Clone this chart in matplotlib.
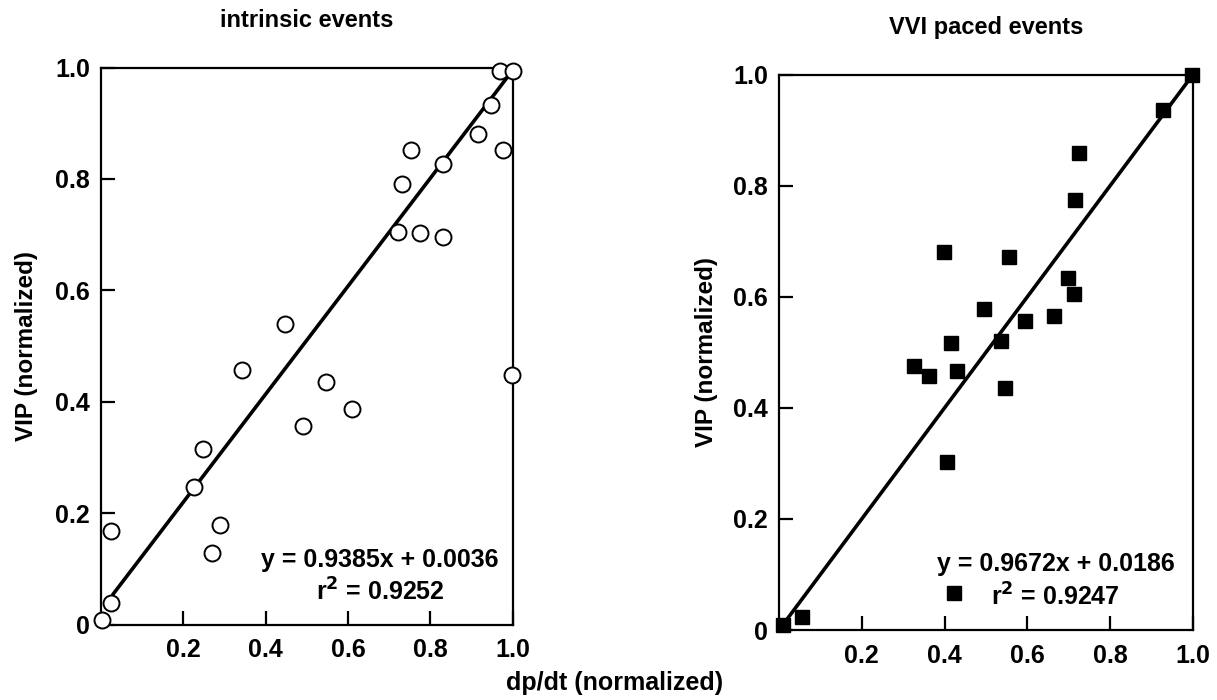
import matplotlib
matplotlib.use("Agg")
import matplotlib.pyplot as plt

plt.rcParams['font.family'] = ['Liberation Sans', 'DejaVu Sans']
plt.rcParams['font.weight'] = 'bold'
plt.rcParams['axes.labelweight'] = 'bold'
plt.rcParams['mathtext.default'] = 'bf'

# intrinsic events (open circles)
intr_x = [0.97, 1.0, 0.948, 0.915, 0.978, 0.753, 0.830, 0.731, 0.722, 0.775, 0.830, 0.447,
          0.342, 0.547, 0.998, 0.609, 0.492, 0.249, 0.227, 0.288, 0.024, 0.269, 0.024, 0.002]
intr_y = [0.994, 0.993, 0.933, 0.881, 0.852, 0.852, 0.827, 0.790, 0.705, 0.702, 0.696, 0.539,
          0.457, 0.435, 0.448, 0.386, 0.356, 0.315, 0.247, 0.178, 0.167, 0.128, 0.038, 0.008]
intr_eq = "y = 0.9385x + 0.0036"
intr_r2 = "0.9252"
# regression line as drawn in the figure (end points)
intr_line_x = [0.03, 0.99]
intr_line_y = [0.055, 0.985]

# VVI paced events (filled squares)
vvi_x = [0.998, 0.928, 0.725, 0.715, 0.399, 0.556, 0.699, 0.713, 0.495, 0.594, 0.665, 0.415,
         0.536, 0.326, 0.363, 0.431, 0.546, 0.405, 0.423, 0.056, 0.010]
vvi_y = [1.0, 0.936, 0.858, 0.774, 0.681, 0.672, 0.633, 0.605, 0.578, 0.557, 0.565, 0.516,
         0.520, 0.476, 0.457, 0.467, 0.436, 0.303, 0.067, 0.024, 0.009]
vvi_eq = "y = 0.9672x + 0.0186"
vvi_r2 = "0.9247"
vvi_line_x = [0.015, 1.0]
vvi_line_y = [0.015, 1.0]

x_ticks = [0.2, 0.4, 0.6, 0.8, 1.0]
y_ticks = [0, 0.2, 0.4, 0.6, 0.8, 1.0]
y_tick_labels = ['0', '0.2', '0.4', '0.6', '0.8', '1.0']

W, H = 1217, 700
fig = plt.figure(figsize=(W / 100, H / 100), dpi=100)

FS_TICK = 18
FS_LAB = 17.5
FS_TITLE = 17
FS_NOTE = 18


def px_axes(x0, x1, ytop, ybot):
    return fig.add_axes([x0 / W, 1 - ybot / H, (x1 - x0) / W, (ybot - ytop) / H])


def style(ax, title, ylab_x):
    ax.set_xlim(0, 1)
    ax.set_ylim(0, 1)
    for s in ax.spines.values():
        s.set_linewidth(1.6)
    ax.set_xticks(x_ticks)
    ax.set_xticklabels([f"{t:.1f}" for t in x_ticks], fontsize=FS_TICK)
    ax.set_yticks(y_ticks)
    ax.set_yticklabels(y_tick_labels, fontsize=FS_TICK)
    ax.tick_params(axis='x', direction='in', length=10, width=1.6, pad=10)
    ax.tick_params(axis='y', direction='in', length=10, width=1.6, pad=8)
    ax.set_ylabel("VIP (normalized)", fontsize=FS_LAB)
    ax.yaxis.set_label_coords(ylab_x, 0.5)
    ax.set_title(title, fontsize=FS_TITLE, pad=29, fontweight='bold')


# left panel
ax1 = px_axes(101, 512.5, 67.5, 624.5)
style(ax1, "intrinsic events", -0.153)
ax1.plot(intr_line_x, intr_line_y, color='black', lw=2.6, zorder=3)
ax1.plot(intr_x, intr_y, 'o', ms=11.5, mfc='white', mec='black', mew=1.4,
         clip_on=False, zorder=4)
ax1.text(0.678, 0.116, intr_eq, fontsize=FS_NOTE, ha='center', va='center')
ax1.text(0.678, 0.059, "r$^2$ = " + intr_r2, fontsize=FS_NOTE, ha='center', va='center')

# right panel
ax2 = px_axes(779, 1193, 74.5, 630)
style(ax2, "VVI paced events", -0.147)
ax2.plot(vvi_line_x, vvi_line_y, color='black', lw=2.6, zorder=3)
ax2.plot(vvi_x, vvi_y, 's', ms=10, mfc='black', mec='black',
         clip_on=False, zorder=4)
ax2.text(0.668, 0.119, vvi_eq, fontsize=FS_NOTE, ha='center', va='center')
ax2.text(0.668, 0.06, "r$^2$ = " + vvi_r2, fontsize=FS_NOTE, ha='center', va='center')

fig.text(615 / W, 1 - 683 / H, "dp/dt (normalized)", fontsize=FS_NOTE,
         ha='center', va='center')

fig.savefig("out.png", dpi=100)
